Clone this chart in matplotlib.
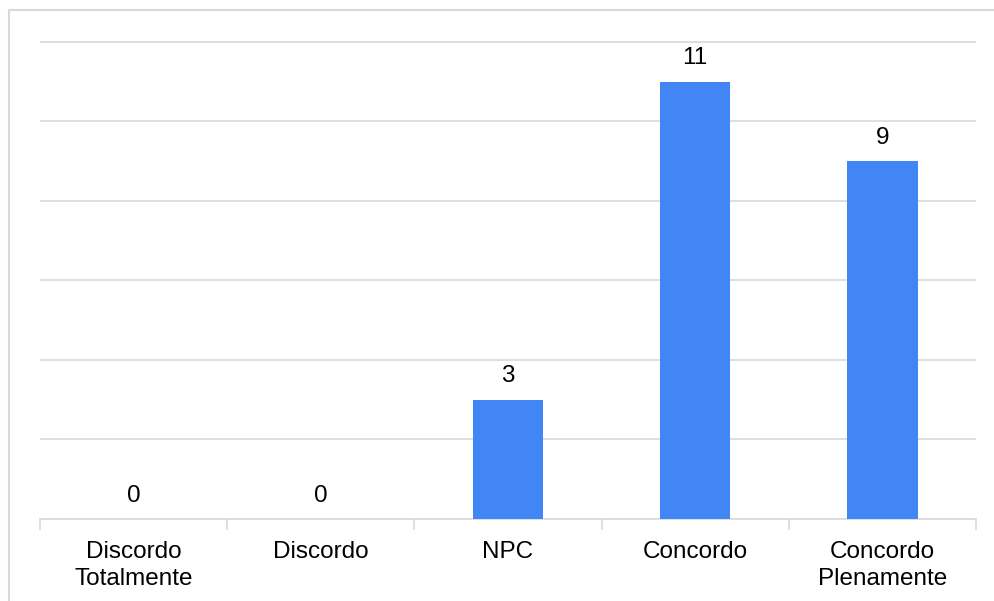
import matplotlib.pyplot as plt
from matplotlib.patches import Rectangle

categorias = ["Discordo\nTotalmente", "Discordo", "NPC", "Concordo", "Concordo\nPlenamente"]
respostas = [0, 0, 3, 11, 9]

plt.rcParams['font.family'] = ['Liberation Sans', 'DejaVu Sans']

fig = plt.figure(figsize=(9.94, 6.01), dpi=100)
ax = fig.add_axes([40/994, 82/601, 936/994, 479/601])

x = range(len(categorias))
bars = ax.bar(x, respostas, width=0.375, color="#4285f4", zorder=3)

for xi, v in zip(x, respostas):
    ax.annotate(str(v), (xi, v), xytext=(0, 9), textcoords="offset points",
                ha="center", va="bottom", fontsize=17.5, color="black")

ax.set_xlim(-0.5, len(categorias) - 0.5)
ax.set_ylim(0, 12.05)
ax.set_yticks(range(0, 13, 2))
ax.set_yticklabels([])
ax.tick_params(axis="y", length=0)
ax.grid(axis="y", color="#d9d9d9", linewidth=1.2, zorder=0)

# tick marks between categories
ax.set_xticks([i - 0.5 for i in range(len(categorias) + 1)], minor=True)
ax.set_xticks(list(x))
ax.set_xticklabels(categorias, fontsize=17.5, linespacing=1.3)
ax.tick_params(axis="x", which="major", length=0, pad=16)
ax.tick_params(axis="x", which="minor", length=8, color="#d9d9d9", width=1.2)

for s in ["top", "right", "left"]:
    ax.spines[s].set_visible(False)
ax.spines["bottom"].set_color("#d9d9d9")
ax.spines["bottom"].set_linewidth(1.2)

fig.patches.append(Rectangle((9/994, -0.01), 1.0, 1 - 10/601 + 0.01, transform=fig.transFigure,
                             fill=False, edgecolor="#d9d9d9", linewidth=1.5))

fig.savefig("out.png", dpi=100)
